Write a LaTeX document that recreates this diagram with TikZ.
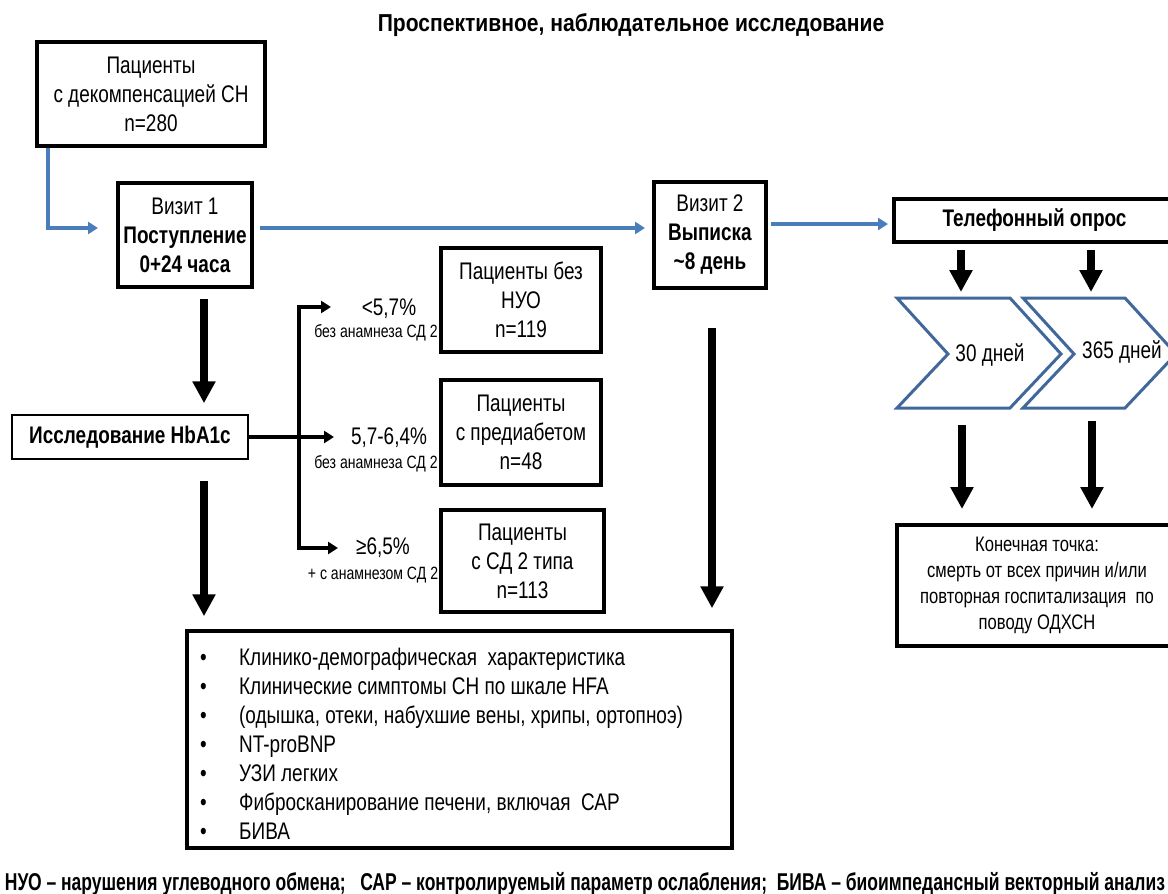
\documentclass[tikz,border=0pt]{standalone}
\usepackage{fontspec}
\setmainfont{Liberation Sans}[FakeStretch=0.79]
\newfontfamily\titlefont{Liberation Sans}[FakeStretch=0.86]
\newfontfamily\narrowfont{Liberation Sans}[FakeStretch=0.72]
\usetikzlibrary{arrows.meta,calc}
\definecolor{lineblue}{RGB}{74,126,187}
\definecolor{chevblue}{RGB}{65,104,154}
\begin{document}
\begin{tikzpicture}[x=1pt,y=-1pt,
  box/.style={draw=black,line width=4pt,align=center,inner sep=0pt,font=\fontsize{24}{29}\selectfont},
  bluearrow/.style={draw=lineblue,line width=3.3pt,-{Triangle[width=12pt,length=10pt]}},
  bigarrow/.style={line width=8pt,-{Triangle[width=22pt,length=22pt]}},
  brarrow/.style={line width=3.5pt,line join=miter},
  brtip/.tip={Triangle[width=12pt,length=10pt]},
  pct/.style={font=\fontsize{24}{26}\selectfont,inner sep=0pt},
  sub/.style={font=\fontsize{17.8}{18}\selectfont,inner sep=0pt},
  txt/.style={inner sep=0pt,font=\fontsize{24}{29}\selectfont},
  chev/.style={draw=chevblue,line width=3pt,line join=miter}
]
\useasboundingbox (0,0) rectangle (1168,894);
\clip (0,0) rectangle (1168,894);

\node[txt,font=\titlefont\bfseries\fontsize{24.5}{26}\selectfont] (title) at (631,25) {Проспективное, наблюдательное исследование};

\node[box,minimum width=228pt,minimum height=104pt] (pat) at (151,94) {Пациенты\\с декомпенсацией СН\\n=280};
\node[box,minimum width=134pt,minimum height=104pt] (v1) at (185,235) {Визит 1\\\textbf{Поступление}\\\textbf{0+24 часа}};
\node[box,minimum width=112pt,minimum height=106pt] (v2) at (710,235) {Визит 2\\\textbf{Выписка}\\\textbf{\textasciitilde8 день}};
\node[box,minimum width=281pt,minimum height=43pt,font=\bfseries\fontsize{24}{29}\selectfont] (tel) at (1034.5,220.5) {Телефонный опрос};
\node[box,line width=1.5pt,minimum width=236pt,minimum height=44pt,font=\bfseries\fontsize{24}{29}\selectfont] (hba) at (130,437) {Исследование HbA1c};

\node[box,minimum width=160pt,minimum height=104pt] (ba) at (521,300) {Пациенты без\\НУО\\n=119};
\node[box,minimum width=160pt,minimum height=105pt] (bb) at (521,432.5) {Пациенты\\с предиабетом\\n=48};
\node[box,minimum width=163pt,minimum height=102pt] (bc) at (522.5,561) {Пациенты\\с СД 2 типа\\n=113};

\node[box,minimum width=280pt,minimum height=121pt,font=\fontsize{21}{26}\selectfont] (end) at (1037,585.5) {Конечная точка:\\смерть от всех причин и/или\\повторная госпитализация\ \ по\\поводу ОДХСН};

\node[box,line width=3.5pt,minimum width=545pt,minimum height=217pt] (bot) at (459.5,739.5) {};
\node[txt,anchor=west,align=left] (list) at (200,743.5) {%
\makebox[39pt][l]{•}Клинико-демографическая\ \ характеристика\\
\makebox[39pt][l]{•}Клинические симптомы СН по шкале HFA\\
\makebox[39pt][l]{•}(одышка, отеки, набухшие вены, хрипы, ортопноэ)\\
\makebox[39pt][l]{•}NT-proBNP\\
\makebox[39pt][l]{•}УЗИ легких\\
\makebox[39pt][l]{•}Фибросканирование печени, включая\ \ САР\\
\makebox[39pt][l]{•}БИВА};

% branch labels
\node[pct] (l1) at (389,309) {<5,7\%};
\node[sub] (s1) at (376,333) {без анамнеза СД 2};
\node[pct] (l2) at (389,438) {5,7-6,4\%};
\node[sub] (s2) at (376,464) {без анамнеза СД 2};
\node[pct] (l3) at (383,548) {≥6,5\%};
\node[sub] (s3) at (373,575) {+ с анамнезом СД 2};

% chevrons
\draw[chev] (897,298) -- (1010,298) -- (1061,354) -- (1010,408) -- (897,408) -- (948,354) -- cycle;
\draw[chev] (1023,298) -- (1125,298) -- (1176,354) -- (1125,408) -- (1023,408) -- (1074,354) -- cycle;
\node[txt] (c1) at (990,355) {30 дней};
\node[txt] (c2) at (1122,352) {365 дней};

\node[txt,font=\narrowfont\bfseries\fontsize{18}{20}\selectfont] (foot) at (585,884) {\resizebox{1160pt}{!}{НУО – нарушения углеводного обмена;\ \ \ САР – контролируемый параметр ослабления;\ \ БИВА – биоимпедансный векторный анализ}};

% coordinates
\coordinate (j1) at (299,307);
\coordinate (j3) at (299,548);
\coordinate (t1) at (331,307);
\coordinate (t2) at (334,437);
\coordinate (t3) at (338,548);
\coordinate (c1t) at (961,298);
\coordinate (c2t) at (1091,298);
\coordinate (c1b) at (962,408);
\coordinate (c2b) at (1092,408);

% blue connectors
\draw[bluearrow] ($(pat.south west)+(13,0)$) |- ($(v1.west)+(-18,-7)$);
\draw[bluearrow] ($(v1.east)+(6,-7)$) -- ($(v2.west)+(-7,-7)$);
\draw[bluearrow] ($(v2.east)+(3,-11)$) -- ($(tel.west)+(-4,3.5)$);

% black thick arrows
\draw[bigarrow] ($(v1.south)+(19,10)$) -- ($(hba.north)+(74,-11)$);
\draw[bigarrow] ($(hba.south)+(74,21)$) -- ($(bot.north)+(-255.5,-13)$);
\draw[bigarrow] ($(v2.south)+(2,38)$) -- ($(bot.north)+(252.5,-21)$);
\draw[bigarrow] ($(tel.south)+(-73.5,6)$) -- ($(c1t)+(0,-6)$);
\draw[bigarrow] ($(tel.south)+(56.5,6)$) -- ($(c2t)+(0,-6)$);
\draw[bigarrow] ($(c1b)+(0,17)$) -- ($(end.north)+(-75,-14)$);
\draw[bigarrow] ($(c2b)+(0,13)$) -- ($(end.north)+(55,-14)$);

% branch connectors
\draw[brarrow,brtip-brtip] (t1) -- (j1) -- (j3) -- (t3);
\draw[brarrow,-brtip] (hba.east) -- (t2);
\end{tikzpicture}
\end{document}
